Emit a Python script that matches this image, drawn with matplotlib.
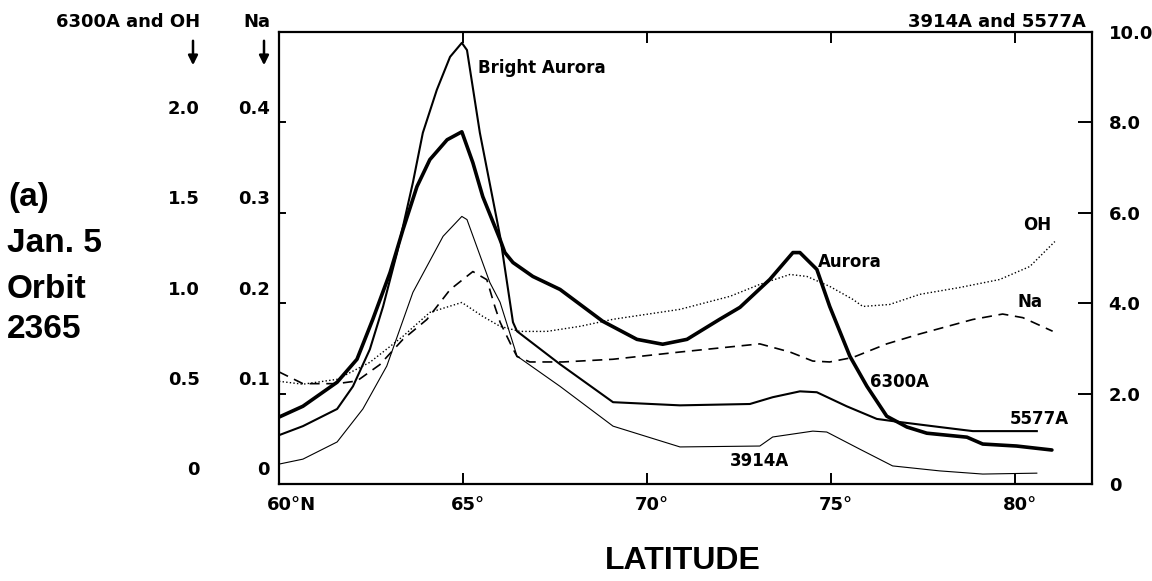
import numpy as np
import matplotlib
matplotlib.use('Agg')
import matplotlib.pyplot as plt

# 6300A airglow / aurora (left outer scale, 0 - 2.5)
lat_6300 = [60.0, 60.65, 61.58, 62.12, 62.55, 63.02, 63.37, 63.75, 64.10, 64.57, 64.97,
            65.27, 65.54, 66.01, 66.14, 66.36, 66.90, 67.64, 68.80, 69.73, 70.43, 71.09,
            71.98, 72.53, 73.34, 73.97, 74.16, 74.62, 74.97, 75.52, 75.98, 76.52, 77.07,
            77.61, 78.70, 79.13, 80.05, 81.01]
i_6300 = [0.370, 0.430, 0.563, 0.690, 0.911, 1.170, 1.407, 1.645, 1.794, 1.904, 1.948,
          1.777, 1.589, 1.352, 1.280, 1.225, 1.148, 1.076, 0.900, 0.800, 0.773, 0.800,
          0.911, 0.977, 1.131, 1.280, 1.280, 1.187, 0.982, 0.706, 0.541, 0.375, 0.315,
          0.281, 0.259, 0.221, 0.210, 0.188]

# 5577A (right scale, 0 - 10)
lat_5577 = [60.0, 60.65, 61.58, 62.01, 62.47, 62.83, 63.21, 63.64, 63.91, 64.29, 64.65,
            64.97, 65.11, 65.46, 66.01, 66.36, 66.47, 67.64, 69.08, 70.90, 72.80, 73.42,
            74.16, 74.62, 75.43, 76.25, 76.88, 77.96, 78.86, 80.60]
i_5577 = [1.08, 1.28, 1.66, 2.16, 2.98, 3.93, 5.12, 6.67, 7.77, 8.72, 9.45,
          9.76, 9.60, 7.77, 5.48, 3.58, 3.38, 2.65, 1.81, 1.74, 1.77, 1.92,
          2.05, 2.03, 1.72, 1.44, 1.37, 1.26, 1.17, 1.17]

# 3914A (right scale, 0 - 10)
lat_3914 = [60.0, 60.65, 61.58, 62.28, 62.93, 63.64, 64.46, 64.97, 65.11, 65.73, 66.01,
            66.47, 67.64, 69.08, 70.90, 73.07, 73.42, 74.51, 74.89, 75.79, 76.68, 77.96,
            79.13, 80.60]
i_3914 = [0.44, 0.55, 0.93, 1.66, 2.61, 4.24, 5.48, 5.92, 5.85, 4.46, 4.02,
          2.83, 2.16, 1.28, 0.82, 0.84, 1.04, 1.17, 1.15, 0.77, 0.40, 0.29,
          0.22, 0.24]

# Na (inner left scale, 0 - 0.5)
lat_na = [60.0, 60.65, 61.58, 62.12, 62.74, 63.37, 64.02, 64.65, 65.27, 65.65, 65.87,
          66.01, 66.33, 66.47, 66.82, 67.72, 69.08, 70.90, 73.07, 73.89, 74.51, 74.97,
          75.60, 76.52, 77.42, 78.86, 79.67, 80.22, 81.03]
i_na = [0.124, 0.111, 0.111, 0.114, 0.132, 0.160, 0.182, 0.215, 0.235, 0.226, 0.196,
        0.179, 0.152, 0.141, 0.135, 0.135, 0.138, 0.146, 0.155, 0.146, 0.136, 0.135,
        0.140, 0.155, 0.166, 0.182, 0.188, 0.184, 0.169]

# OH (left outer scale, 0 - 2.5)
lat_oh = [60.0, 60.65, 61.58, 62.47, 63.37, 64.10, 64.97, 65.54, 66.01, 66.55, 67.28,
          68.18, 69.08, 70.90, 72.26, 73.07, 73.89, 74.35, 74.97, 75.60, 75.87, 76.60,
          77.42, 78.51, 79.59, 80.41, 81.09]
i_oh = [0.568, 0.552, 0.579, 0.673, 0.817, 0.949, 1.004, 0.927, 0.872, 0.844, 0.844,
        0.872, 0.911, 0.966, 1.038, 1.104, 1.159, 1.148, 1.093, 1.021, 0.982, 0.993,
        1.049, 1.087, 1.131, 1.203, 1.341]

x_ticks = [60, 65, 70, 75, 80]
x_labels = ['60°N', '65°', '70°', '75°', '80°']
right_ticks = [0, 2, 4, 6, 8, 10]
right_labels = ['0', '2.0', '4.0', '6.0', '8.0', '10.0']
left_ticks = [0, 2, 4, 6, 8]
oh_labels = ['0', '0.5', '1.0', '1.5', '2.0']
na_labels = ['0', '0.1', '0.2', '0.3', '0.4']

W, H = 1152, 581
fig = plt.figure(figsize=(W / 100, H / 100), dpi=100)
ax = fig.add_axes([279 / W, 1 - 484 / H, 813 / W, 452 / H])

# everything drawn on the 0-10 scale of the right axis
ax.plot(lat_6300, np.array(i_6300) * 4, color='black', lw=2.6, solid_capstyle='round')
ax.plot(lat_5577, i_5577, color='black', lw=1.5)
ax.plot(lat_3914, i_3914, color='black', lw=0.8)
ax.plot(lat_na, np.array(i_na) * 20, color='black', lw=1.2, dashes=(6, 4))
ax.plot(lat_oh, np.array(i_oh) * 4, color='black', lw=1.0, ls=(0, (1, 1.6)))

ax.set_xlim(60, 82.1)
ax.set_ylim(0, 10)
for s in ax.spines.values():
    s.set_linewidth(1.6)

bold = dict(family='DejaVu Sans', weight='bold', size=13)

# x ticks: labels drawn by hand so the digits sit centred on the tick
ax.set_xticks(x_ticks)
ax.set_xticklabels([])
ax.tick_params(axis='x', direction='in', length=8, width=1.4, top=True)
xtrans = ax.get_xaxis_transform()
for t, s in zip(x_ticks, x_labels):
    ax.text(t - 0.33, -0.047, s, transform=xtrans, ha='left', va='center', **bold)

ax.yaxis.tick_right()
ax.set_yticks(right_ticks)
ax.set_yticklabels(right_labels, fontdict=bold)
ax.tick_params(axis='y', direction='in', length=10, width=1.4, pad=12)
trans = ax.get_yaxis_transform()
for t in left_ticks:
    ax.plot([0, 0.007], [t, t], color='black', lw=1.4, transform=trans, clip_on=False)

for t, a, b in zip(left_ticks, oh_labels, na_labels):
    ax.text(-0.0972, t + 0.3, a, transform=trans, ha='right', va='center', **bold)
    ax.text(-0.0111, t + 0.3, b, transform=trans, ha='right', va='center', **bold)

# curve labels
lab = dict(family='DejaVu Sans', weight='bold', size=12, va='center', ha='left')
ax.text(65.41, 9.21, 'Bright Aurora', **lab)
ax.text(74.65, 4.92, 'Aurora', **lab)
ax.text(76.06, 2.25, '6300A', **lab)
ax.text(79.86, 1.43, '5577A', **lab)
ax.text(72.26, 0.51, '3914A', **lab)
ax.text(80.22, 5.74, 'OH', **lab)
ax.text(80.08, 4.02, 'Na', **lab)

# scale headers
fig.text(200 / W, 1 - 22 / H, '6300A and OH', ha='right', va='center', **bold)
fig.text(270 / W, 1 - 22 / H, 'Na', ha='right', va='center', **bold)
fig.text(1086 / W, 1 - 22 / H, '3914A and 5577A', ha='right', va='center', **bold)
for xp in (193, 264):
    ax.annotate('', xy=(xp, H - 68), xytext=(xp, H - 38), xycoords='figure pixels',
                textcoords='figure pixels',
                arrowprops=dict(arrowstyle='-|>', color='black', lw=1.8,
                                mutation_scale=14))

side = dict(family='Liberation Sans', weight='bold', size=24, ha='left', va='center')
fig.text(8 / W, 1 - 198 / H, '(a)', **side)
fig.text(7 / W, 1 - 243 / H, 'Jan. 5', **side)
fig.text(7 / W, 1 - 290 / H, 'Orbit', **side)
fig.text(7 / W, 1 - 330 / H, '2365', **side)

fig.text(683 / W, 1 - 561 / H, 'LATITUDE', family='Liberation Sans', weight='bold',
         size=23, ha='center', va='center')

fig.savefig('out.png', dpi=100)
